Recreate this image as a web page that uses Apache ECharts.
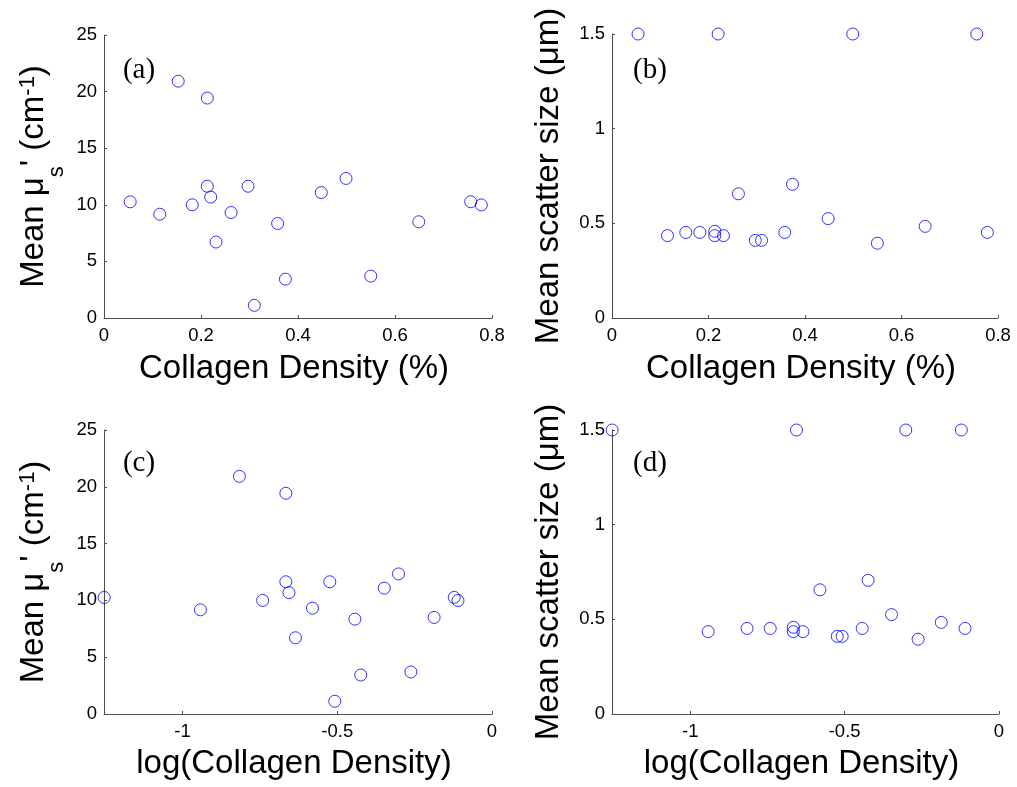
<!DOCTYPE html>
<html>
<head>
<meta charset="utf-8">
<script src="https://cdn.jsdelivr.net/npm/echarts@6/dist/echarts.min.js"></script>
<style>
html,body{margin:0;padding:0;background:#fff;}
#chart{width:1017px;height:787px;}
</style>
</head>
<body>
<div id="chart"></div>
<script>
// Collagen density (%) for each sample (panels a, b)
const density = [0.054, 0.115, 0.153, 0.182, 0.213, 0.213, 0.220, 0.231, 0.262, 0.297, 0.310, 0.358, 0.374, 0.448, 0.499, 0.550, 0.649, 0.756, 0.778];
// log(Collagen Density) (panels c, d)
const logDensity = [-1.253, -0.942, -0.816, -0.741, -0.666, -0.666, -0.656, -0.635, -0.580, -0.524, -0.508, -0.443, -0.424, -0.348, -0.302, -0.262, -0.187, -0.122, -0.110];
// Mean reduced scattering coefficient (cm^-1)
const musMean = [10.26, 9.17, 20.92, 10.00, 19.43, 11.64, 10.68, 6.71, 9.32, 11.64, 1.12, 8.35, 3.43, 11.08, 12.33, 3.70, 8.50, 10.27, 9.99];
// Mean scatter size (um)
const scatterSize = [1.5, 0.435, 0.452, 0.452, 0.458, 0.435, 1.5, 0.435, 0.656, 0.410, 0.410, 0.452, 0.706, 0.525, 1.5, 0.395, 0.484, 1.5, 0.452];

const xTicksLinear = [0, 0.2, 0.4, 0.6, 0.8];
const xTicksLog = [-1, -0.5, 0];
const panelLabels = ['(a)', '(b)', '(c)', '(d)'];

const FONT = '"Liberation Sans", Arial, sans-serif';
const AXIS_COLOR = '#4d4d4d';

function pairs(xs, ys) { return xs.map((x, i) => [x, ys[i]]); }

const grids = [
  {left: 104, top: 35, width: 388, height: 283},
  {left: 612, top: 34, width: 386, height: 284},
  {left: 104, top: 430, width: 388, height: 284},
  {left: 612, top: 430, width: 387, height: 284}
];

const tickLabel = {color: '#000', fontFamily: FONT, fontSize: 18.5};

function xAxisDef(idx, isLog) {
  const ax = {
    type: 'value', gridIndex: idx,
    name: isLog ? 'log(Collagen Density)' : 'Collagen Density (%)',
    nameLocation: 'middle',
    nameGap: isLog ? 33 : 34,
    nameTextStyle: {color: '#000', fontFamily: FONT, fontSize: 33, padding: [0, 8, 0, 0]},
    splitLine: {show: false},
    axisLine: {show: true, onZero: false, lineStyle: {color: AXIS_COLOR, width: 1}},
    axisTick: {show: true, inside: true, length: 3, lineStyle: {color: AXIS_COLOR}},
    axisLabel: Object.assign({margin: 8}, tickLabel)
  };
  if (isLog) {
    ax.min = -1.2535; ax.max = 0;
    ax.axisTick.customValues = xTicksLog;
    ax.axisLabel.customValues = xTicksLog;
  } else {
    ax.min = 0; ax.max = 0.8; ax.interval = 0.2;
  }
  return ax;
}

function yAxisDef(idx, isMus) {
  const ax = {
    type: 'value', gridIndex: idx,
    nameLocation: 'middle', nameRotate: 90,
    splitLine: {show: false},
    axisLine: {show: true, onZero: false, lineStyle: {color: AXIS_COLOR, width: 1}},
    axisTick: {show: true, inside: true, length: 3, lineStyle: {color: AXIS_COLOR}},
    axisLabel: Object.assign({margin: 7}, tickLabel)
  };
  if (isMus) {
    ax.min = 0; ax.max = 25; ax.interval = 5;
    ax.name = '{m|Mean μ}{sub|s}{m|\' (cm}{sup|-1}{m|)}';
    ax.nameGap = 47;
    ax.nameTextStyle = {
      color: '#000', fontFamily: FONT, fontSize: 33,
      rich: {
        m: {fontFamily: FONT, fontSize: 33, color: '#000', lineHeight: 40, verticalAlign: 'top'},
        sub: {fontFamily: FONT, fontSize: 22, color: '#000', lineHeight: 22, verticalAlign: 'top', padding: [29, 0, 0, 0]},
        sup: {fontFamily: FONT, fontSize: 22, color: '#000', lineHeight: 14, verticalAlign: 'top'}
      }
    };
  } else {
    ax.min = 0; ax.max = 1.5; ax.interval = 0.5;
    ax.name = 'Mean scatter size (μm)';
    ax.nameGap = 47;
    ax.nameTextStyle = {color: '#000', fontFamily: FONT, fontSize: 33};
  }
  return ax;
}

function seriesDef(idx, data) {
  return {
    type: 'scatter', xAxisIndex: idx, yAxisIndex: idx,
    data: data, clip: false,
    symbol: 'circle', symbolSize: 12,
    itemStyle: {color: 'rgba(0,0,0,0)', borderColor: '#0000ff', borderWidth: 1},
    emphasis: {disabled: true},
    animation: false
  };
}

const labelPos = [[139, 70], [650, 70], [139, 463], [650, 463]];

const option = {
  backgroundColor: '#fff',
  animation: false,
  grid: grids,
  xAxis: [xAxisDef(0, false), xAxisDef(1, false), xAxisDef(2, true), xAxisDef(3, true)],
  yAxis: [yAxisDef(0, true), yAxisDef(1, false), yAxisDef(2, true), yAxisDef(3, false)],
  series: [
    seriesDef(0, pairs(density, musMean)),
    seriesDef(1, pairs(density, scatterSize)),
    seriesDef(2, pairs(logDensity, musMean)),
    seriesDef(3, pairs(logDensity, scatterSize))
  ],
  graphic: panelLabels.map((t, i) => ({
    type: 'text', x: labelPos[i][0], y: labelPos[i][1],
    style: {text: t, fill: '#000', font: '29px "Liberation Serif", "Times New Roman", serif', textAlign: 'center', textVerticalAlign: 'middle'}
  }))
};

const chart = echarts.init(document.getElementById('chart'), null, {renderer: 'canvas'});
chart.setOption(option);
</script>
</body>
</html>
